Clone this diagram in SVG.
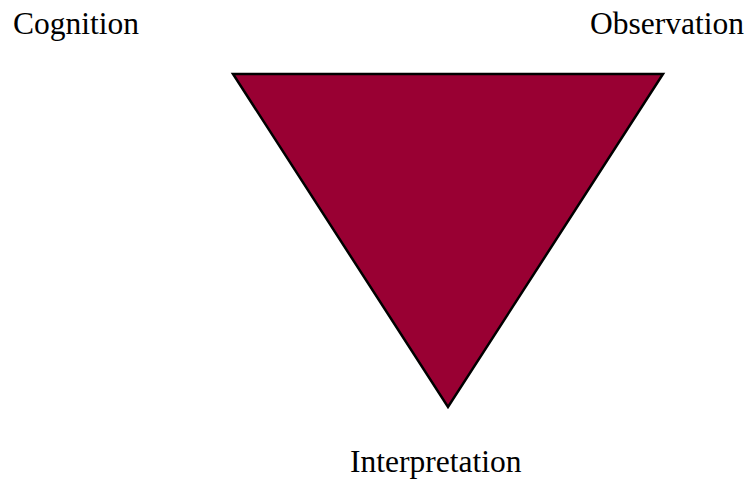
<svg xmlns="http://www.w3.org/2000/svg" width="750" height="480" viewBox="0 0 750 480">
<style>
.lbl{font-family:"Liberation Serif","Times New Roman",serif;font-size:31.5px;fill:#000}
</style>
<rect width="750" height="480" fill="#fff"/>
<g id="triangle">
<polygon points="233,74 663,74 448,407" fill="#990033" stroke="#000" stroke-width="2.5" stroke-linejoin="miter"/>
</g>
<g id="cognition"><text class="lbl" x="13" y="34">Cognition</text></g>
<g id="observation"><text class="lbl" x="590" y="34">Observation</text></g>
<g id="interpretation"><text class="lbl" x="350" y="472">Interpretation</text></g>
<g id="connectors"></g>
</svg>
